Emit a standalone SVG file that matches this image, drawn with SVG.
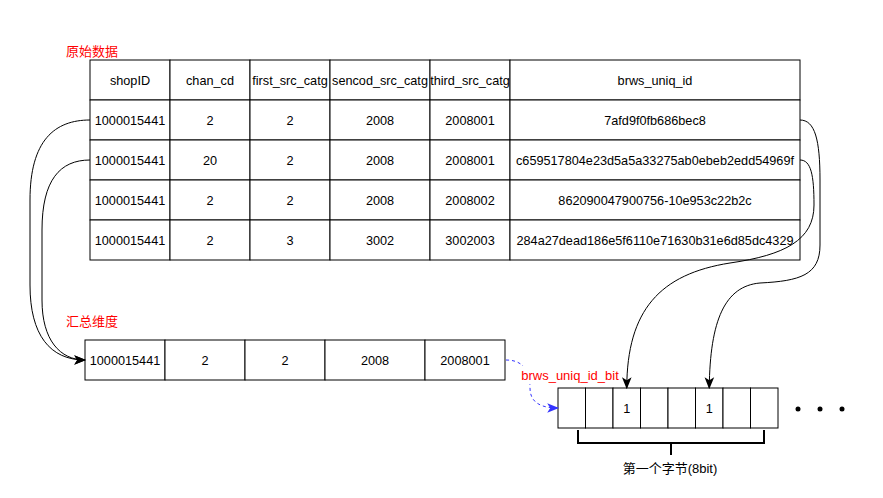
<svg xmlns="http://www.w3.org/2000/svg" width="883" height="498" viewBox="0 0 883 498">
<style>
text{font-family:"Liberation Sans","Noto Sans CJK SC",sans-serif;fill:#000}
.t{font-size:12.7px;text-anchor:middle}
.red{font-size:13px;fill:#FF0000}
.cell{fill:#fff;stroke:#000;stroke-width:1}
.conn{fill:none;stroke:#000;stroke-width:1}
.blue{fill:none;stroke:#3333FF;stroke-width:1;stroke-dasharray:3 3}
.brk{fill:none;stroke:#000;stroke-width:2}
</style>
<defs>
<marker id="ah" markerUnits="userSpaceOnUse" markerWidth="12" markerHeight="12" viewBox="0 0 10 8" refX="9" refY="4" orient="auto">
<path d="M0,0 L10,4 L0,8 L2.5,4 z" fill="#000"/>
</marker>
<marker id="ahb" markerUnits="userSpaceOnUse" markerWidth="12" markerHeight="12" viewBox="0 0 10 8" refX="9" refY="4" orient="auto">
<path d="M0,0 L10,4 L0,8 L2.5,4 z" fill="#3333FF"/>
</marker>
</defs>
<rect width="883" height="498" fill="#fff"/>

<g id="label-raw"><text class="red" x="66" y="56">原始数据</text></g>

<g id="raw-table">
<rect class="cell" x="90" y="60" width="80" height="40"/><rect class="cell" x="170" y="60" width="80" height="40"/><rect class="cell" x="250" y="60" width="80" height="40"/><rect class="cell" x="330" y="60" width="100" height="40"/><rect class="cell" x="430" y="60" width="80" height="40"/><rect class="cell" x="510" y="60" width="290" height="40"/>
<rect class="cell" x="90" y="100" width="80" height="40"/><rect class="cell" x="170" y="100" width="80" height="40"/><rect class="cell" x="250" y="100" width="80" height="40"/><rect class="cell" x="330" y="100" width="100" height="40"/><rect class="cell" x="430" y="100" width="80" height="40"/><rect class="cell" x="510" y="100" width="290" height="40"/>
<rect class="cell" x="90" y="140" width="80" height="40"/><rect class="cell" x="170" y="140" width="80" height="40"/><rect class="cell" x="250" y="140" width="80" height="40"/><rect class="cell" x="330" y="140" width="100" height="40"/><rect class="cell" x="430" y="140" width="80" height="40"/><rect class="cell" x="510" y="140" width="290" height="40"/>
<rect class="cell" x="90" y="180" width="80" height="40"/><rect class="cell" x="170" y="180" width="80" height="40"/><rect class="cell" x="250" y="180" width="80" height="40"/><rect class="cell" x="330" y="180" width="100" height="40"/><rect class="cell" x="430" y="180" width="80" height="40"/><rect class="cell" x="510" y="180" width="290" height="40"/>
<rect class="cell" x="90" y="220" width="80" height="40"/><rect class="cell" x="170" y="220" width="80" height="40"/><rect class="cell" x="250" y="220" width="80" height="40"/><rect class="cell" x="330" y="220" width="100" height="40"/><rect class="cell" x="430" y="220" width="80" height="40"/><rect class="cell" x="510" y="220" width="290" height="40"/>
<text class="t" x="130" y="84.5">shopID</text><text class="t" x="210" y="84.5">chan_cd</text><text class="t" x="290" y="84.5">first_src_catg</text><text class="t" x="380" y="84.5">sencod_src_catg</text><text class="t" x="470" y="84.5">third_src_catg</text><text class="t" x="655" y="84.5">brws_uniq_id</text>
<text class="t" x="130" y="124.5">1000015441</text><text class="t" x="210" y="124.5">2</text><text class="t" x="290" y="124.5">2</text><text class="t" x="380" y="124.5">2008</text><text class="t" x="470" y="124.5">2008001</text><text class="t" x="655" y="124.5">7afd9f0fb686bec8</text>
<text class="t" x="130" y="164.5">1000015441</text><text class="t" x="210" y="164.5">20</text><text class="t" x="290" y="164.5">2</text><text class="t" x="380" y="164.5">2008</text><text class="t" x="470" y="164.5">2008001</text><text class="t" x="655" y="164.5">c659517804e23d5a5a33275ab0ebeb2edd54969f</text>
<text class="t" x="130" y="204.5">1000015441</text><text class="t" x="210" y="204.5">2</text><text class="t" x="290" y="204.5">2</text><text class="t" x="380" y="204.5">2008</text><text class="t" x="470" y="204.5">2008002</text><text class="t" x="655" y="204.5">862090047900756-10e953c22b2c</text>
<text class="t" x="130" y="244.5">1000015441</text><text class="t" x="210" y="244.5">2</text><text class="t" x="290" y="244.5">3</text><text class="t" x="380" y="244.5">3002</text><text class="t" x="470" y="244.5">3002003</text><text class="t" x="655" y="244.5">284a27dead186e5f6110e71630b31e6d85dc4329</text>
</g>

<g id="label-summary"><text class="red" x="66" y="325.5">汇总维度</text></g>

<g id="summary-table">
<rect class="cell" x="85" y="340" width="80" height="40"/><rect class="cell" x="165" y="340" width="80" height="40"/><rect class="cell" x="245" y="340" width="80" height="40"/><rect class="cell" x="325" y="340" width="100" height="40"/><rect class="cell" x="425" y="340" width="80" height="40"/>
<text class="t" x="125" y="364.5">1000015441</text><text class="t" x="205" y="364.5">2</text><text class="t" x="285" y="364.5">2</text><text class="t" x="375" y="364.5">2008</text><text class="t" x="465" y="364.5">2008001</text>
</g>

<g id="bit-array">
<rect class="cell" x="558" y="388" width="27.5" height="40"/><rect class="cell" x="585.5" y="388" width="27.5" height="40"/><rect class="cell" x="613" y="388" width="27.5" height="40"/><rect class="cell" x="640.5" y="388" width="27.5" height="40"/><rect class="cell" x="668" y="388" width="27.5" height="40"/><rect class="cell" x="695.5" y="388" width="27.5" height="40"/><rect class="cell" x="723" y="388" width="27.5" height="40"/><rect class="cell" x="750.5" y="388" width="27.5" height="40"/>
<text class="t" x="626.75" y="413">1</text><text class="t" x="709.25" y="413">1</text>
</g>

<g id="ellipsis">
<circle cx="798" cy="409" r="2.5" fill="#000"/><circle cx="820" cy="409" r="2.5" fill="#000"/><circle cx="842" cy="409" r="2.5" fill="#000"/>
</g>

<g id="byte-bracket">
<path class="brk" d="M578,430 L578,443 L764,443 L764,430 M671,443 L671,455"/>
<text x="670" y="472.5" style="font-size:13px;text-anchor:middle">第一个字节(8bit)</text>
</g>

<g id="connectors">
<path class="conn" d="M90,120 C55,120 30,140 30,200 L30,285 C30,335 50,360 85,360" marker-end="url(#ah)"/>
<path class="conn" d="M90,160 C60,160 42,180 42,230 L42,300 C42,340 60,360 85,360" marker-end="url(#ah)"/>
<path class="conn" d="M800,160 C811,160 814,175 814,205 C814,240 785,255 730,263 C660,274 627,310 626.75,388" marker-end="url(#ah)"/>
<path class="conn" d="M800,120 C815,120 820,140 820,180 L820,245 C820,275 800,281 760,283 C725,286 710,320 709.25,388" marker-end="url(#ah)"/>
<path class="blue" d="M506,360 C524,360 530,372 530,388 C530,402 540,408 558,408" marker-end="url(#ahb)"/>
<rect x="520" y="366" width="100" height="18" fill="#fff"/>
<text class="red" x="570" y="380" text-anchor="middle">brws_uniq_id_bit</text>
</g>
</svg>
